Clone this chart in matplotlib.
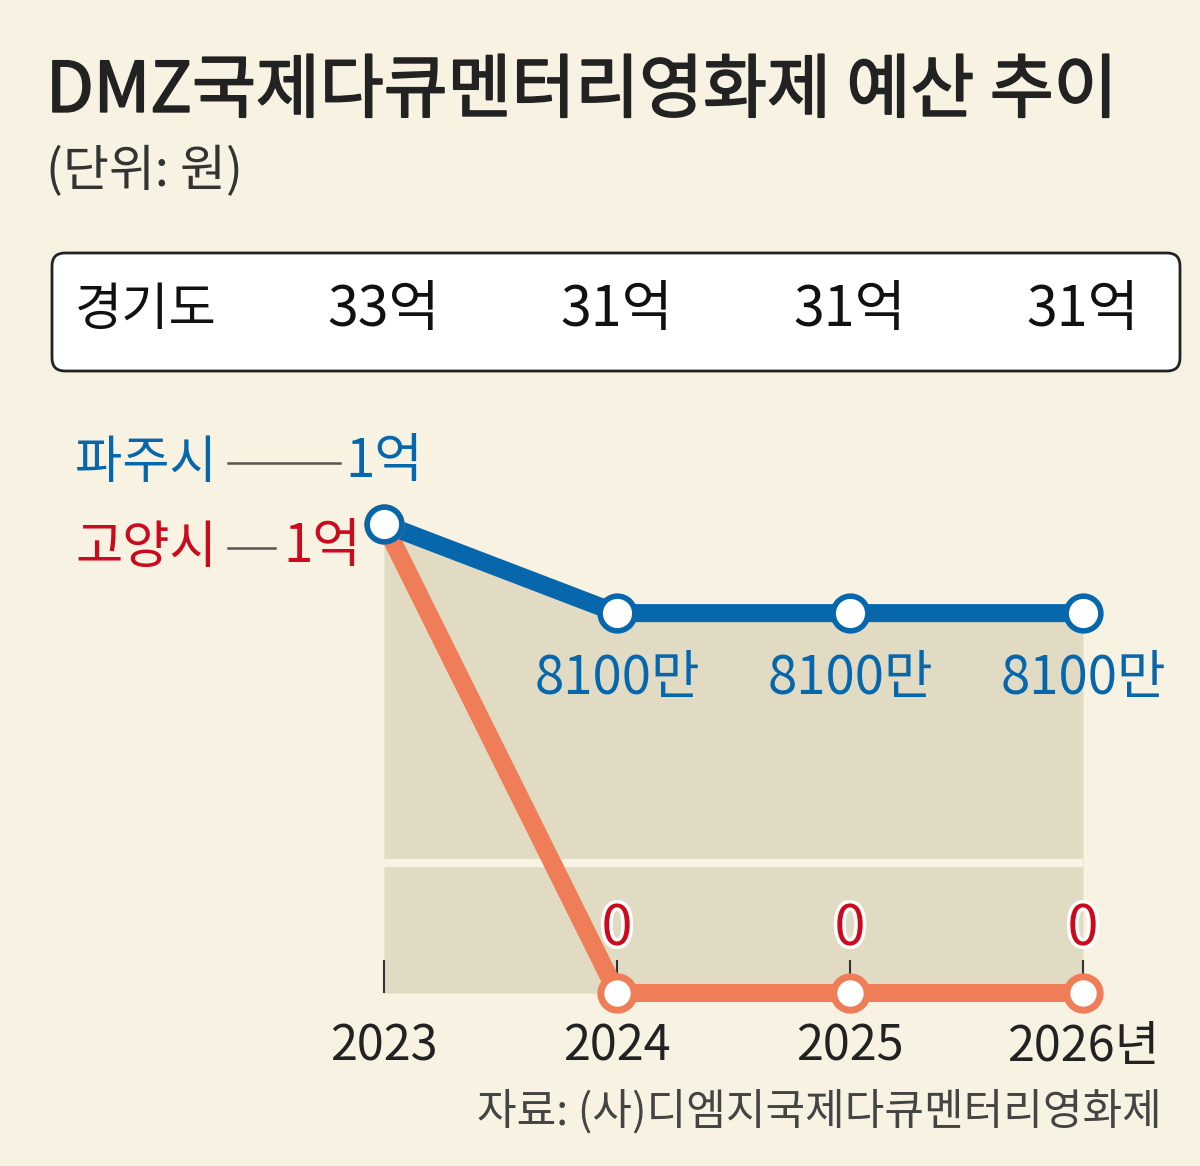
import matplotlib
matplotlib.use("Agg")
import matplotlib.pyplot as plt
import matplotlib.patheffects as pe
from matplotlib.patches import FancyBboxPatch
from matplotlib.lines import Line2D
import matplotlib.transforms as mtransforms

plt.rcParams['font.family'] = ['Noto Sans CJK KR', 'DejaVu Sans']

# data (unit: won)
years = [2023, 2024, 2025, 2026]
year_labels = ['2023', '2024', '2025', '2026년']
paju = [1e8, 8100e4, 8100e4, 8100e4]
goyang = [1e8, 0, 0, 0]
gyeonggi = [33, 31, 31, 31]  # 억

BG = '#f7f2e1'
BLUE = '#0767ad'
ORANGE = '#ef7d58'
RED = '#cc0a1e'
FILL = '#e1dbc4'

W, H = 1200, 1166


def won(v):
    if v >= 1e8:
        return f"{v / 1e8:g}억"
    if v >= 1e4:
        return f"{v / 1e4:g}만"
    return "0"


def fx(px):
    return px / W


def fy(py):
    return 1 - py / H


fig = plt.figure(figsize=(W / 100, H / 100), dpi=100)
fig.patch.set_facecolor(BG)

# plot area: 2023 -> x 384px, 2026 -> x 1083px ; 0 -> y 993px, 1e8 -> y 524px
ax = fig.add_axes([fx(384), fy(993), fx(1083 - 384), (993 - 524) / H])
ax.set_xlim(2023, 2026)
ax.set_ylim(0, 1e8)
ax.patch.set_visible(False)
for s in ax.spines.values():
    s.set_visible(False)
ax.set_yticks([])
ax.set_axisbelow(True)

ax.fill_between(years, paju, 0, color=FILL, lw=0, zorder=0.2)
ax.axhline(0.277e8, color=BG, lw=6, zorder=0.3)

ax.plot(years, goyang, color=ORANGE, lw=13, solid_capstyle='round',
        zorder=3, clip_on=False)
ax.plot(years, paju, color=BLUE, lw=13, solid_capstyle='round',
        zorder=4, clip_on=False)
ax.plot(years, goyang, ls='none', marker='o', ms=24, mfc='white', mec=ORANGE,
        mew=5, zorder=5, clip_on=False)
ax.plot(years, paju, ls='none', marker='o', ms=25, mfc='white', mec=BLUE,
        mew=4, zorder=6, clip_on=False)

ax.set_xticks(years)
ax.set_xticklabels(year_labels, fontsize=35, color='#222')
ax.tick_params(axis='x', direction='in', length=24, width=1.5,
               color='#333', pad=21)

halo = [pe.withStroke(linewidth=5, foreground='white')]
for x, p, g in zip(years[1:], paju[1:], goyang[1:]):
    ax.annotate(won(p), (x, p), xytext=(0, -47), textcoords='offset points',
                ha='center', va='center', fontsize=38, color=BLUE, zorder=7)
    ax.annotate(won(g), (x, g), xytext=(0, 46), textcoords='offset points',
                ha='center', va='center', fontsize=40, color=RED, zorder=7,
                path_effects=halo)

# legend-like labels at left
fig.text(fx(75), fy(463), '파주시', fontsize=37, color=BLUE, ha='left', va='center')
fig.add_artist(Line2D([fx(228), fx(340)], [fy(463), fy(463)], color='#555', lw=1.8))
fig.text(fx(345), fy(461), won(paju[0]), fontsize=38, color=BLUE, ha='left', va='center')
fig.text(fx(75), fy(548), '고양시', fontsize=37, color=RED, ha='left', va='center')
fig.add_artist(Line2D([fx(228), fx(275)], [fy(548), fy(548)], color='#555', lw=1.8))
fig.text(fx(283), fy(546), won(goyang[0]), fontsize=38, color=RED, ha='left', va='center')

# Gyeonggi box
box = FancyBboxPatch((0.52, (H - 371) / 100), 11.28, 1.18,
                     boxstyle='round,pad=0,rounding_size=0.13',
                     transform=fig.dpi_scale_trans, facecolor='white',
                     edgecolor='#222', lw=2)
fig.add_artist(box)
fig.text(fx(75), fy(310), '경기도', fontsize=37, color='#111', ha='left', va='center')
blend = mtransforms.blended_transform_factory(ax.transData, fig.transFigure)
for x, v in zip(years, gyeonggi):
    fig.text(x, fy(310), f"{v}억", fontsize=40, color='#111', ha='center',
             va='center', transform=blend)

# titles
fig.text(fx(46), fy(92), 'DMZ국제다큐멘터리영화제 예산 추이', fontsize=50,
         color='#222', ha='left', va='center',
         path_effects=[pe.withStroke(linewidth=1.3, foreground='#222')])
fig.text(fx(46), fy(172), '(단위: 원)', fontsize=36, color='#333', ha='left', va='center')
fig.text(fx(1162), fy(1112), '자료: (사)디엠지국제다큐멘터리영화제', fontsize=31,
         color='#444', ha='right', va='center')

fig.savefig('out.png', dpi=100, facecolor=BG)
